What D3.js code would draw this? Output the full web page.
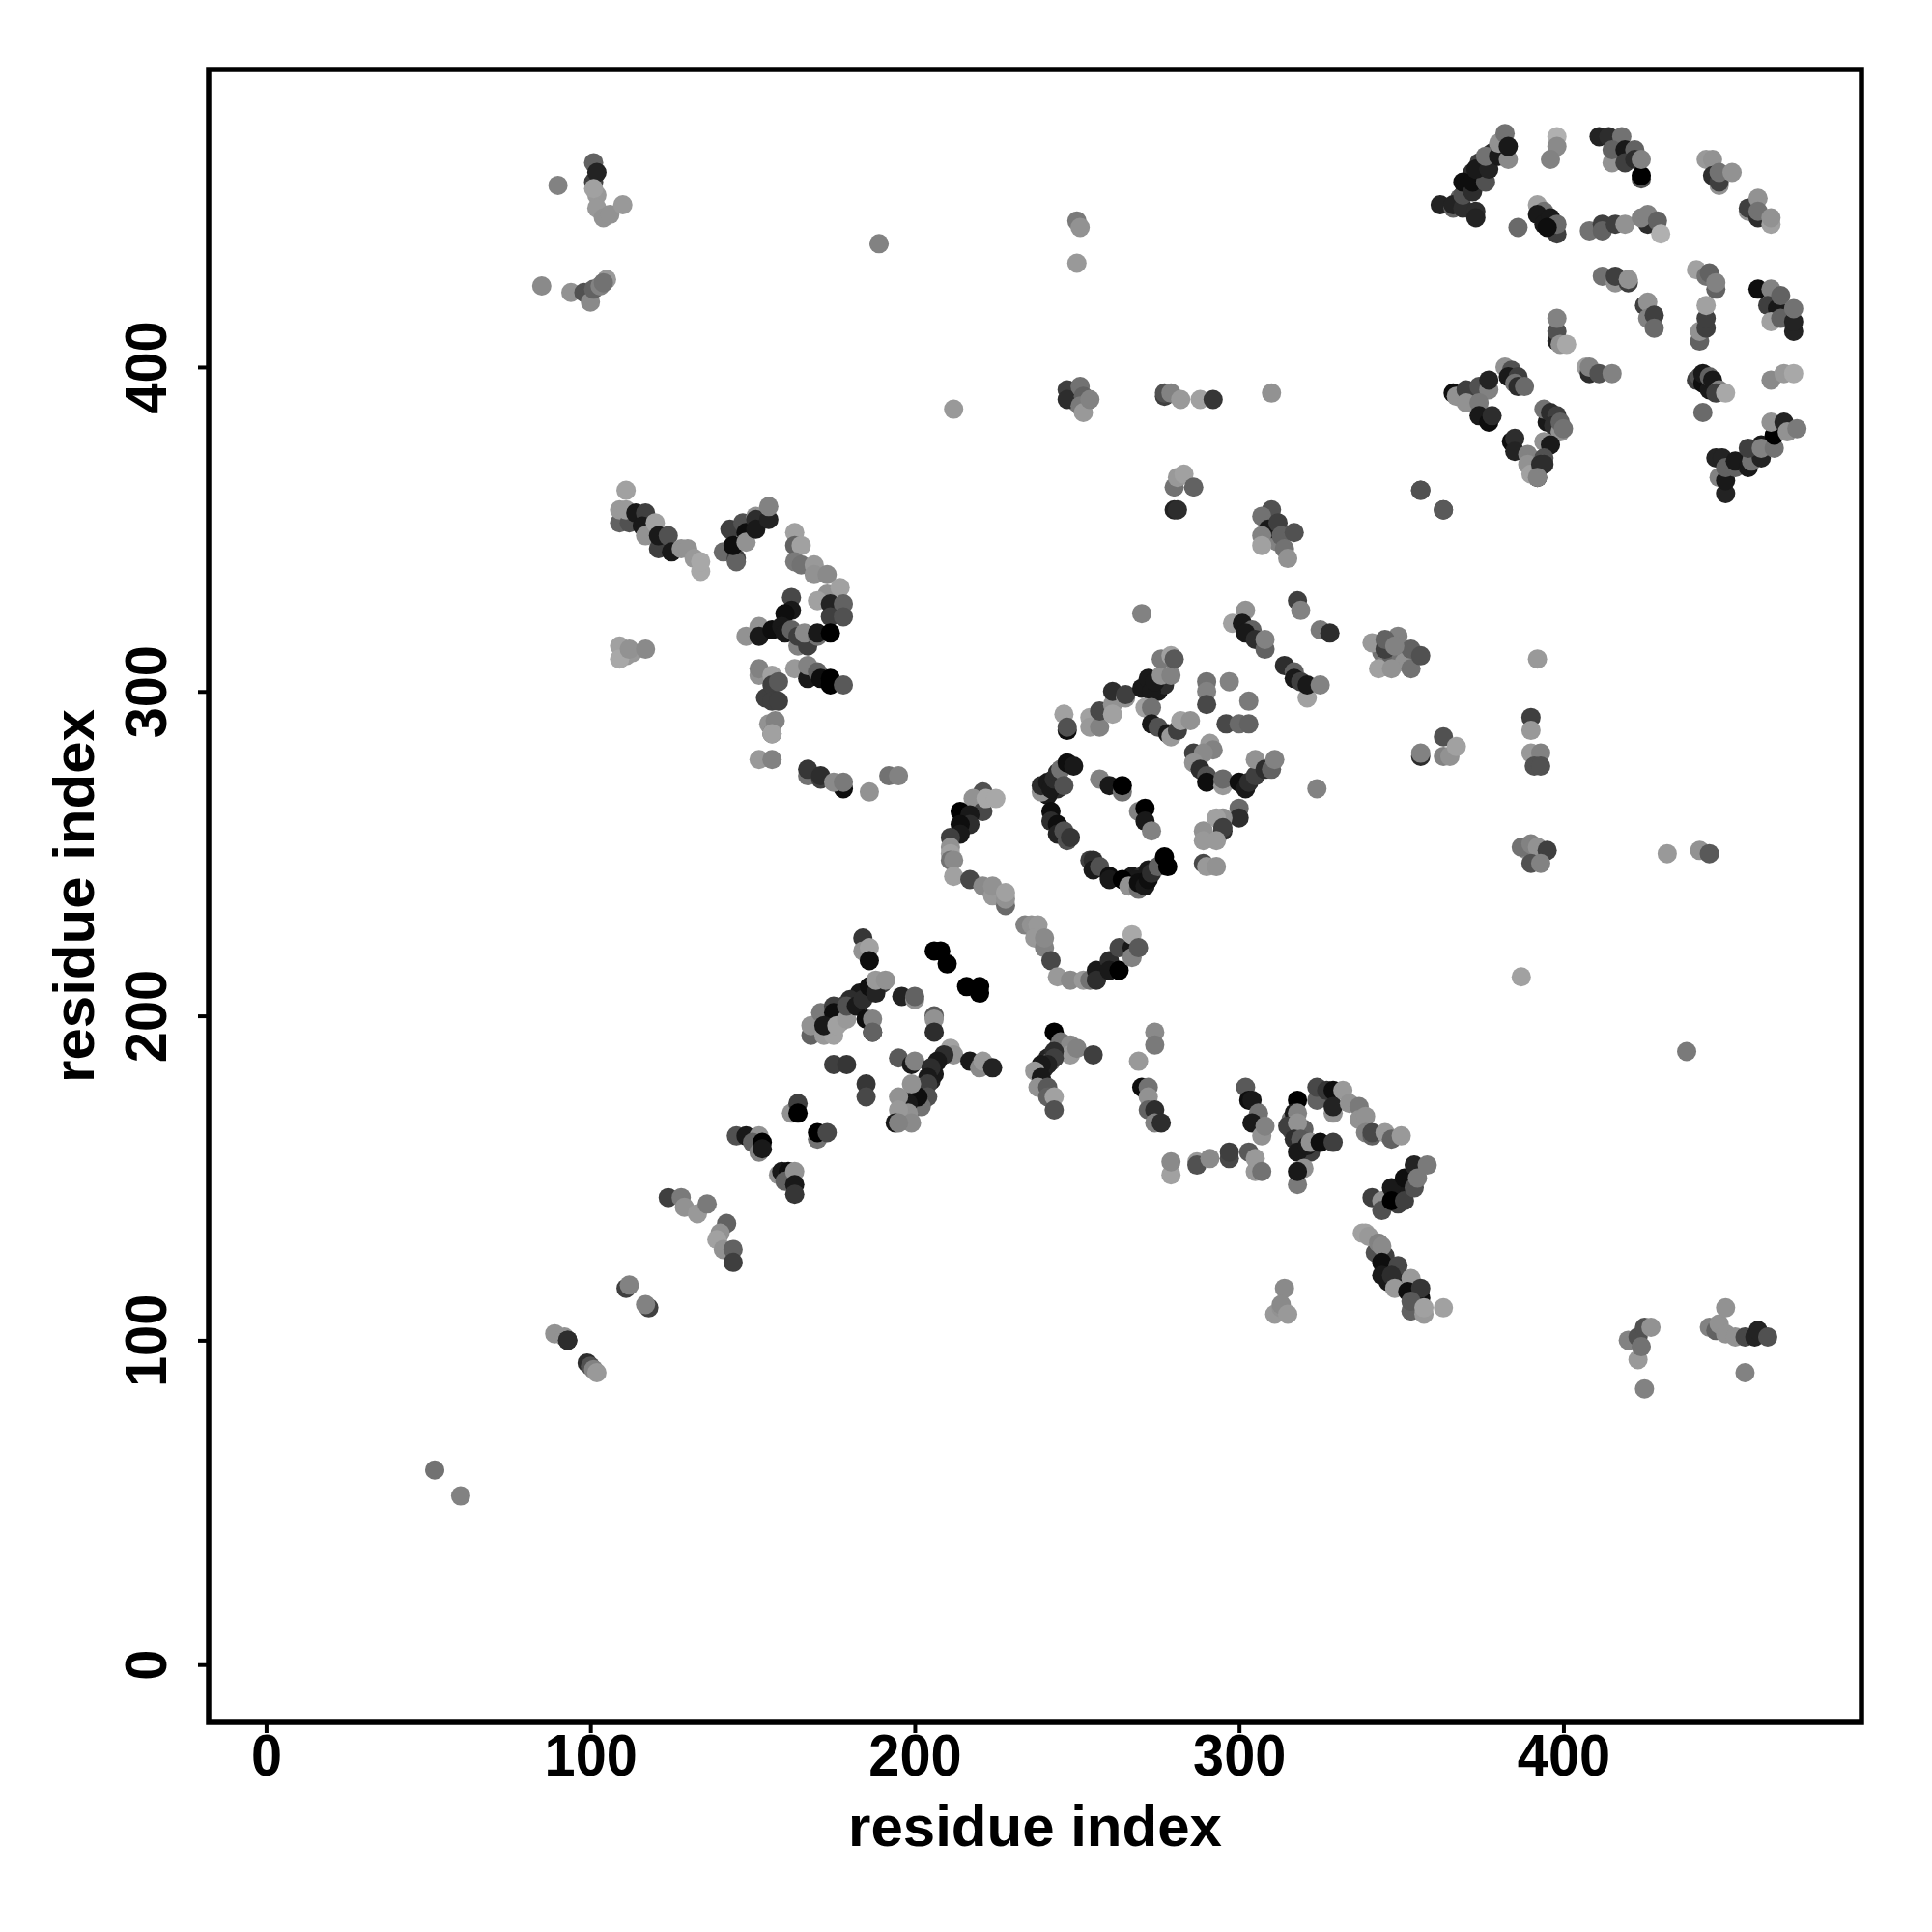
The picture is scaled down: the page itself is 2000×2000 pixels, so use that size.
<!DOCTYPE html>
<html><head><meta charset="utf-8">
<script src="https://cdn.jsdelivr.net/npm/d3@7"></script>
<style>html,body{margin:0;background:#fff}svg{display:block}
text{font-family:"Liberation Sans",Arial,sans-serif;font-weight:bold;fill:#000}</style>
</head><body><div id="c"></div>
<script>
// [residue i, residue j, shade 0 (black) .. 10 (light grey)]
const denseContacts=[[389,251,8],[391,250,7],[393,250,5],[310,352,5],[311,349,3],[309,347,6],[312,346,7],[249,392,5],[250,389,6],[250,392,7],[110,312,9],[111,311,8.5],[113,312,8.5],[344,312,6],[346,310,7],[347,311,5],[350,310,6],[351,309,8],[154,298,3],[155,290,8],[201,176,2],[203,178,2],[205,180,1.5],[206,182,1],[199,175,3],[197,172,5],[196,169,8],[198,168,8],[183,207,1],[186,207,1.5],[180,205,2],[178,203,3],[190,210,3],[177,198,8],[240,184,2],[241,187,1.5],[244,190,3],[242,186,5],[246,190,7],[372,460,2],[374,463,3],[378,466,2],[371,455,2],[368,452,5],[441,396,3],[444,395,2],[446,394,4],[346,122,1],[345,126,3],[346,118,1],[350,118,1.5],[354,113,1],[342,127,4],[316,165,4],[316,168,6],[320,165,5],[319,160,2],[322,158,3],[347,145,2],[349,146,1],[352,147,1],[349,142,3],[275,300,1],[277,302,2],[267,243,1],[270,243,2],[268,242,1],[272,245,1],[244,270,2],[241,268,1]];
const topRightArc=[[362,450,1.5],[366,449,5],[366,450,1.5],[369,449,2],[373,448,2],[373,446,1.5],[369,453,4],[369,457,0.5],[372,454,2],[372,457,0.5],[376,457,4],[373,461,1],[377,461,1.5],[376,465,6],[380,465,1],[383,464,7.5],[380,469,8],[382,472,6],[383,468,1],[398,471,10],[398,468,7.5],[396,464,7],[386,443,5.5],[392,450,9],[394,448,6],[392,447,1],[394,444,1],[396,446,1],[398,441,3],[398,444,5.5],[395,443,0.5]];
const topRightBand=[[415,463,8],[411,471,1.5],[414,471,2],[418,471,6],[415,467,5],[419,467,1],[422,467,5],[419,463,3],[422,464,2],[424,458,4],[424,459,0],[424,464,7],[444,464,8.5],[446,464,8],[446,459,2],[448,456,8],[448,457,3],[448,460,6],[452,460,8],[457,448,8],[457,449,3],[460,452,8],[460,446,2],[460,448,6],[464,444,9],[464,446,8],[408,442,6],[412,444,3],[412,442,5],[416,444,3],[419,444,8],[426,444,2],[424,446,7],[426,447,7],[429,445,5],[430,441,10]];
const topRightMid=[[412,428,6],[416,426,8],[416,428,3],[420,426,3],[420,427,8],[425,419,3],[426,420,8],[426,415,7],[428,416,3],[428,412,5.5],[441,430,9],[444,428,6],[445,429,5],[447,424,5],[447,426,7],[442,408,5],[442,411,8],[444,412,3],[444,415,3],[444,419,9],[460,424,0.5],[464,424,7],[463,419,3],[466,418,1],[464,414,9],[467,415,5],[467,422,5],[471,411,1.5],[471,414,1.5],[471,418,6],[398,408,1.5],[398,411,4],[398,415,7],[399,407,8],[401,407,9.5],[407,400,9],[408,398,2],[408,400,7],[411,398,4],[415,398,7]];
const topRightLow=[[442,397,4],[443,395,0.5],[443,398,1],[445,393,1],[445,397,5],[446,396,1],[448,393,7],[447,392,3],[450,392,9.5],[464,396,7.5],[468,398,8.5],[471,398,9.5],[443,386,5.5],[366,392,0.5],[367,391,8],[370,393,3],[374,394,4],[377,393,7],[377,396,1.5],[370,389,8],[374,389,6.5],[374,385,1],[377,383,0.5],[378,385,2],[382,400,8],[384,399,4],[383,397,1],[386,397,3],[385,395,6],[386,394,2],[388,394,5.5],[395,383,1],[394,387,6],[396,386,2],[398,385,3],[397,382,2],[399,380,8],[399,383,5],[400,381,6],[384,377,0.5],[385,378,2],[385,374,1.5],[389,373,7],[389,370,8],[394,377,8],[396,376,1],[394,372,4],[392,366,0.5],[390,367,9],[393,370,2],[394,370,2],[392,366,7],[356,362,5],[356,362,4],[363,356,3],[363,356,4.5],[447,372,1.5],[449,372,1.5],[450,361,1.5],[448,366,7],[450,365,1],[450,369,5],[453,369,5],[453,371,1],[457,369,1],[458,371,6],[461,376,1],[461,372,1.5],[457,375,3],[461,375,7],[465,375,6],[465,379,0],[464,383,8],[468,383,1.5],[469,380,8],[472,381,6.5]];
const middleLeft=[[111,362,9],[109,352,5],[109,356,8.5],[112,352,4],[111,356,8.5],[114,355,1],[117,355,3],[116,351,1],[117,348,8],[120,352,9],[121,344,3],[121,348,1],[124,348,4],[125,343,1],[128,344,8],[130,344,8],[132,341,8.5],[134,337,9.5],[134,340,9.5],[141,343,5.5],[145,341,3],[145,340,5],[143,350,3],[144,345,0.5],[147,352,4],[148,349,0.5],[148,346,8],[151,354,8],[151,353,2],[151,350,1],[155,353,1.5],[155,357,7],[163,349,9],[163,345,5],[165,345,9],[163,340,6.5],[165,339,6],[169,339,8.5],[169,336,8],[173,336,7.5],[173,330,8],[177,332,9],[170,328,9],[174,327,1.5],[178,327,5],[174,323,3],[178,323,4]];
const middleKnot=[[162,329,3.5],[162,325,1],[160,324,0.5],[148,317,8],[152,320,8],[152,317,1],[156,319,0.5],[159,320,1],[160,318,1],[162,319,5],[164,314,7],[164,317,3],[167,314,3],[166,318,7.5],[170,317,6],[170,318,1],[174,318,0],[109,314,9],[109,310,9.5],[112,313,8],[117,313,7.5],[152,305,8],[152,307,7],[156,305,9],[156,302,3],[158,303,4.5],[163,307,8.5],[167,304,1],[167,308,7],[170,306,5],[171,304,0.5],[174,304,0],[174,302,0],[178,302,4.5],[156,297,3],[158,297,3],[156,287,5],[157,291,7],[156,287,9],[152,279,8.5],[156,279,7],[167,274,6],[167,276,2.5],[171,273,3],[171,274,2],[178,270,0.5],[175,272,7.5],[178,272,6.5],[186,269,8],[192,274,6],[195,274,7]];
const centreArc=[[221,269,4],[218,267,8],[221,263,3.5],[222,267,9.5],[225,267,9.5],[214,263,0],[217,262,1],[217,259,2],[214,259,0.5],[214,256,1],[211,255,3],[211,252,8],[211,250,9],[211,248,6],[212,248,7.5],[212,243,9],[217,242,3.5],[221,240,7.5],[224,237,8.5],[224,240,8],[228,234,5.5],[228,236,8],[228,238,9],[234,228,7],[236,228,8],[238,228,8.5],[237,224,8.5],[240,221,7],[240,224,7.5],[242,217,3.5],[244,212,8.5],[248,211,7.5],[252,211,8.5],[254,211,6],[256,214,1],[256,211,2],[260,217,2],[260,214,1],[263,214,0],[263,221,3.5],[267,221,1],[267,218,7],[267,225,9.5],[269,221,4.5]];
const centreRing=[[239,269,8],[239,271,2],[241,272,1],[242,270,1],[243,273,2],[244,275,2],[245,276,6],[246,271,4],[247,278,0.5],[249,277,1],[242,263,0.5],[242,260,2],[244,259,0.5],[244,256,1.5],[246,257,4],[247,254,4],[248,255,2.5],[257,273,7],[260,271,1],[264,269,6],[264,271,0],[269,263,7],[271,264,0],[271,260,1],[273,257,7],[254,248,3],[255,248,2],[255,245,1],[257,246,4],[260,243,0.5],[260,242,1],[264,242,0],[266,240,8],[269,239,6],[269,241,0.5],[271,240,1],[272,242,0.5],[273,244,2],[275,246,5],[277,249,0],[278,246,0]];
const centreUpper=[[246,293,9],[247,288,0.5],[247,289,4],[254,292,9],[254,289,8.5],[257,289,7],[257,294,3.5],[261,296,8],[261,293,9],[261,300,2],[265,298,8],[265,299,3],[270,301,1],[272,304,1],[273,300,1],[271,295,9],[273,295,6],[274,303,1],[276,305,8],[279,305,7],[276,310,6.5],[279,311,9],[280,310,4.5],[290,303,6],[290,300,7],[290,296,3.5],[297,303,7],[303,297,6.5],[296,290,3.5],[300,290,5.5],[303,290,5],[273,290,1],[275,289,4],[278,287,1],[279,286,8.5],[281,288,3],[282,291,9],[285,291,8],[291,284,8.5],[292,282,7],[286,281,3],[289,281,7.5],[286,278,8],[288,276,2],[290,274,4],[290,272,0.5],[295,271,8.5],[295,273,5.5],[300,272,0.5],[302,270,1],[303,272,2],[305,274,3],[305,279,8],[308,276,2],[310,276,5],[311,279,7],[300,264,5.5],[300,261,2],[295,261,8],[293,261,9],[295,257,2],[295,258,3],[289,257,8],[289,254,8.5],[293,254,8.5],[289,247,3.5],[290,246,8.5],[293,246,8],[324,270,7],[270,324,7]];
const rightDiagonal=[[298,321,9],[302,325,8],[301,321,1],[304,319,5],[302,318,1],[305,316,2],[308,313,5],[308,316,7],[314,308,2],[317,306,5],[317,304,1],[319,303,3],[321,298,9],[321,302,1],[325,302,7],[318,328,3],[319,325,7],[325,319,6.5],[328,318,2],[341,315,8.5],[345,313,3],[349,317,7],[343,307,9],[347,307,8],[353,313,5],[353,307,6],[356,311,4],[345,316,5],[348,314,7]];
const lowerCross=[[184,224,2.5],[184,220,8],[186,221,9],[186,217,0.5],[145,163,4],[148,163,1],[152,163,8],[150,161,5],[152,158,7],[153,161,0],[153,159,1],[158,151,8],[159,152,1],[161,152,0.5],[160,149,5],[163,152,8],[163,148,1],[163,145,2.5],[162,170,8],[164,173,3],[164,170,0],[170,162,6],[170,164,0],[173,164,3.5],[175,185,3],[179,185,2.5],[185,179,2.5],[185,175,3.5],[168,194,5],[168,197,8],[171,201,6.5],[172,194,8.5],[175,194,9],[175,203,3],[175,201,0.5],[172,197,1],[176,197,9],[179,199,8.5],[179,203,4],[182,203,1],[184,205,2],[186,209,0.5],[188,207,1.5],[188,211,8.5],[191,211,8],[185,199,0.5],[187,195,1],[187,199,7],[187,195,5],[196,206,1.5],[200,205,8],[200,206,5],[206,200,4.5],[206,199,8],[206,195,2],[206,220,0],[208,220,0],[210,216,0],[216,209,0],[220,209,0],[220,207,0],[195,187,4.5],[199,185,1],[200,186,7],[211,190,9],[212,188,8],[209,188,2],[207,186,1],[205,184,2],[204,181,1],[201,178,8],[204,179,3],[204,175,4],[202,172,6],[201,175,0.5],[199,179,8],[198,173,1],[198,170,8],[195,175,8],[195,171,8.5],[199,167,7.5],[194,167,1],[195,167,7],[217,186,1],[220,184,7.5],[221,186,8.5],[224,184,1.5]];
const lowerMiddle=[[243,195,0],[245,192,6],[248,191,7.5],[248,188,8.5],[250,190,7],[255,188,3],[243,189,2],[243,187,3],[241,185,1.5],[239,185,1],[237,183,8.5],[239,181,1],[238,178,8],[241,178,4.5],[241,175,5],[243,175,9],[243,171,4],[274,195,7.5],[274,191,6.5],[269,186,8.5],[270,178,0.5],[272,178,6],[272,175,8],[272,171,5],[274,171,2],[274,167,7],[276,167,2],[279,151,9],[279,155,7.5],[287,155,8.5],[287,154,4],[291,156,7.5],[297,156,3.5],[297,158,3],[303,158,4.5],[305,152,8.5],[305,156,8.5],[307,152,6],[302,178,4.5],[303,174,0.5],[304,174,1],[306,170,6],[304,167,1],[307,163,8],[308,166,7]];
const lowerRight=[[318,174,0],[317,170,1],[318,170,7],[315,166,3],[318,167,8],[317,162,2],[319,162,4.5],[318,158,1],[321,160,1],[322,161,8],[325,161,0.5],[329,161,3],[320,153,8],[318,148,6.5],[318,152,1],[324,174,5],[324,178,3.5],[327,177,2.5],[329,177,0.5],[332,177,8.5],[329,170,8],[329,172,1.5],[334,173,8],[337,172,6.5],[337,168,8],[339,169,8],[339,164,7],[341,163,5],[341,164,3.5],[345,164,8.5],[347,162,5],[350,163,8.5],[341,144,3],[344,143,8],[344,140,4],[347,147,1],[347,143,0],[351,150,0.5],[351,143,3],[354,154,1.5],[354,147,4],[355,150,6.5],[358,154,6.5],[338,133,9],[339,133,9],[340,132,8.5],[343,130,7],[344,129,7.5],[344,124,0.5],[344,120,1],[349,123,3.5],[347,120,2],[348,116,8.5],[353,119,8.5],[352,115,0.5],[356,113,0.5],[356,116,2.5],[353,109,5],[353,112,4.5],[357,108,8.5],[357,110,9],[363,110,9],[314,116,7.5],[311,108,8.5],[313,110,8],[313,111,7.5],[315,108,8.5]];
const lowerLeftChain=[[52,60,6],[60,52,7],[89,102,8],[92,101,8],[93,100,3],[93,100,2],[99,93,2],[100,92,4],[101,91,7],[102,90,8.5],[111,116,3],[112,117,7],[118,110,3],[117,111,7],[124,144,3],[128,144,6.5],[129,141,8],[133,139,8.5],[136,142,6.5],[142,136,5],[140,133,8],[139,131,9],[141,128,8],[144,128,5],[144,124,3]];
const topLeft=[[90,456,7],[101,463,5],[101,457,3],[102,460,1.5],[102,453,8.5],[101,455,9],[102,449,8.5],[104,446,8],[106,447,8],[110,450,8.5],[85,425,7.5],[94,423,8],[98,423,4],[100,420,7.5],[101,424,5],[103,425,7],[105,427,8.5],[104,426,6],[189,438,7],[250,445,6.5],[251,443,8],[250,432,8.5],[212,387,8.5]];
const offDiagonalUpper=[[247,393,3],[247,390,2],[251,394,6],[252,391,5],[251,388,6.5],[252,386,8.5],[254,390,7],[277,391,3],[277,392,4],[279,392,7],[282,390,8.5],[288,390,9],[292,390,2.5],[310,392,8],[280,363,6],[281,366,8.5],[283,367,9],[286,363,5],[280,356,1.5],[281,356,2],[310,356,4],[307,354,6],[309,350,1],[307,348,7],[307,345,9],[312,352,3],[313,348,5],[317,349,4],[314,344,6],[315,341,8]];
const offDiagonalRight=[[392,310,8.5],[390,292,3],[390,288,8.5],[390,281,8.5],[393,281,7],[391,277,4],[393,277,4],[387,252,6],[390,253,7],[392,252,8],[395,251,3],[390,247,4],[393,247,7],[387,212,9],[432,250,8.5],[442,251,8],[445,250,4.5],[438,189,6.5],[356,280,2],[356,281,7],[363,286,4],[363,280,7],[365,280,8],[367,283,9]];
const bottomRight=[[420,100,7],[423,101,4],[423,94,8.5],[424,98,6],[425,104,4],[427,104,8],[425,85,7],[445,104,7],[447,103,5],[448,105,8],[450,110,8],[450,102,8],[453,101,8],[456,101,3.5],[459,101,1.5],[460,103,1.5],[463,101,4],[456,90,7]];
const xTickValues=[0,100,200,300,400];
const yTickValues=[0,100,200,300,400];
const xTitle="residue index";
const yTitle="residue index";

const contactGroups=[denseContacts,topRightArc,topRightBand,topRightMid,topRightLow,middleLeft,middleKnot,centreArc,centreRing,centreUpper,rightDiagonal,lowerCross,lowerMiddle,lowerRight,lowerLeftChain,topLeft,offDiagonalUpper,offDiagonalRight,bottomRight];

const W=2000,H=2000,F={l:216,r:1927,t:72,b:1783};
const svg=d3.select("#c").append("svg").attr("width",W).attr("height",H);
const x=d3.scaleLinear().domain([-17.7,491.9]).range([F.l,F.r]);
const y=d3.scaleLinear().domain([-17.8,491.7]).range([F.b,F.t]);
const shade=d3.scalePow().exponent(0.85).domain([0,10]).range(["#000000","#b0b0b0"]);

svg.append("g").selectAll("g").data(contactGroups).join("g")
  .selectAll("circle").data(d=>d).join("circle")
  .attr("cx",d=>x(d[0])).attr("cy",d=>y(d[1])).attr("r",10).attr("fill",d=>shade(d[2]));

svg.append("rect").attr("x",F.l).attr("y",F.t).attr("width",F.r-F.l).attr("height",F.b-F.t)
  .attr("fill","none").attr("stroke","#000").attr("stroke-width",5.5);

const ax=svg.append("g").attr("transform",`translate(0,${F.b})`)
  .call(d3.axisBottom(x).tickValues(xTickValues).tickSizeOuter(0).tickSize(11).tickPadding(0));
ax.select(".domain").remove();
ax.selectAll("line").attr("stroke","#000").attr("stroke-width",4);
ax.selectAll("text").attr("y",null).attr("dy",null).attr("text-anchor","middle")
  .attr("transform","translate(0,55) scale(0.93,1)").style("font-size","62px");

const ay=svg.append("g").attr("transform",`translate(${F.l},0)`)
  .call(d3.axisLeft(y).tickValues(yTickValues).tickSizeOuter(0).tickSize(11).tickPadding(0));
ay.select(".domain").remove();
ay.selectAll("line").attr("stroke","#000").attr("stroke-width",4);
ay.selectAll("text").attr("x",null).attr("dy",null).attr("text-anchor","middle")
  .attr("transform","translate(-44,0) rotate(-90) scale(0.93,1)").style("font-size","62px");

svg.append("text").attr("x",(F.l+F.r)/2).attr("y",1911).attr("text-anchor","middle").style("font-size","60px").text(xTitle);
svg.append("text").attr("transform",`translate(97,${(F.t+F.b)/2}) rotate(-90)`).attr("text-anchor","middle").style("font-size","60px").text(yTitle);
</script></body></html>
